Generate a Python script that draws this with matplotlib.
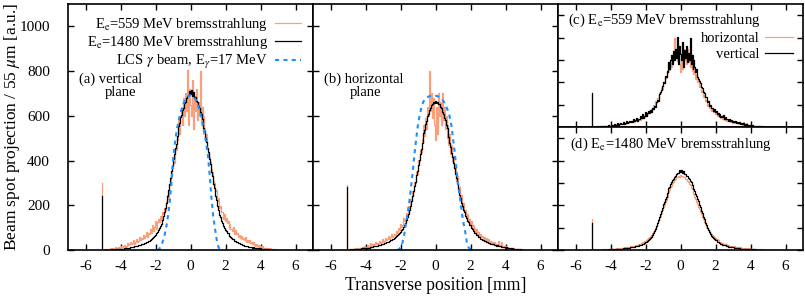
import numpy as np
import matplotlib
matplotlib.use("Agg")
import matplotlib.pyplot as plt

plt.rcParams["font.family"] = ["Liberation Serif", "DejaVu Serif"]
plt.rcParams["mathtext.fontset"] = "stix"
plt.rcParams["font.size"] = 10.5
plt.rcParams["axes.unicode_minus"] = False

# histogram bins: 55 um pixels, first bin centre at -5.06 mm
bin_start = -5.06
bin_width = 0.055

# E_e = 1480 MeV, vertical plane
hi_vert = [
    240, 1, 1, 1, 2, 1, 2, 2, 1, 2,
    2, 3, 2, 3, 3, 4, 3, 4, 5, 4,
    5, 6, 6, 7, 7, 8, 9, 9, 11, 10,
    12, 13, 13, 15, 16, 17, 18, 20, 21, 22,
    24, 25, 27, 28, 30, 33, 34, 37, 40, 42,
    45, 47, 51, 55, 58, 63, 68, 74, 80, 88,
    97, 108, 118, 132, 150, 168, 188, 212, 240, 268,
    295, 322, 352, 376, 408, 428, 458, 476, 508, 524,
    554, 566, 594, 604, 626, 636, 656, 664, 680, 688,
    692, 712, 696, 714, 688, 706, 682, 684, 666, 662,
    644, 636, 616, 606, 584, 572, 546, 532, 500, 484,
    454, 436, 406, 386, 350, 332, 296, 276, 242, 224,
    196, 180, 158, 147, 128, 120, 106, 100, 88, 86,
    76, 74, 65, 64, 56, 55, 48, 47, 42, 41,
    36, 36, 31, 31, 27, 27, 23, 23, 19, 20,
    17, 17, 14, 15, 12, 13, 11, 12, 10, 10,
    9, 9, 7, 8, 6, 7, 5, 6, 4, 5,
    3, 4, 3, 3, 2, 2, 2, 2, 1, 1,
    1, 1, 0, 0,
]

# E_e = 1480 MeV, horizontal plane
hi_horz = [
    280, 1, 2, 2, 3, 2, 3, 4, 3, 4,
    4, 5, 5, 6, 5, 7, 7, 8, 8, 9,
    9, 10, 11, 11, 12, 13, 14, 15, 16, 17,
    18, 19, 20, 22, 23, 24, 25, 27, 29, 30,
    32, 34, 36, 38, 40, 43, 45, 48, 51, 54,
    57, 61, 64, 68, 73, 77, 82, 88, 95, 103,
    112, 122, 134, 148, 163, 180, 198, 218, 240, 262,
    287, 306, 334, 354, 382, 402, 430, 450, 478, 496,
    522, 538, 562, 576, 598, 610, 628, 636, 650, 652,
    664, 656, 668, 658, 664, 652, 652, 638, 634, 618,
    610, 592, 580, 558, 544, 520, 504, 478, 460, 433,
    414, 388, 368, 340, 320, 293, 274, 248, 232, 210,
    197, 178, 168, 152, 145, 131, 126, 114, 110, 99,
    96, 86, 84, 75, 74, 65, 65, 57, 57, 50,
    50, 45, 44, 40, 40, 36, 36, 32, 32, 28,
    29, 25, 26, 22, 23, 20, 21, 18, 19, 16,
    17, 14, 15, 12, 14, 11, 12, 9, 10, 8,
    9, 6, 8, 5, 6, 4, 5, 3, 4, 2,
    3, 1, 1, 1,
]

# E_e = 559 MeV, vertical plane
lo_vert = [
    300, 0, 2, 4, 1, 3, 6, 2, 3, 7,
    4, 9, 5, 6, 12, 7, 9, 15, 10, 8,
    18, 13, 16, 24, 14, 20, 19, 33, 22, 26,
    38, 25, 30, 44, 28, 36, 50, 34, 41, 58,
    45, 52, 49, 68, 55, 62, 80, 58, 74, 70,
    95, 78, 86, 112, 84, 102, 130, 95, 125, 140,
    125, 150, 135, 172, 160, 190, 178, 220, 245, 230,
    295, 310, 330, 365, 400, 390, 455, 445, 500, 490,
    580, 520, 600, 640, 560, 680, 600, 700, 620, 805,
    560, 720, 650, 600, 760, 540, 690, 620, 720, 580,
    660, 600, 800, 560, 640, 520, 600, 540, 490, 520,
    450, 430, 415, 395, 360, 350, 310, 300, 265, 270,
    220, 232, 190, 195, 168, 172, 140, 162, 130, 145,
    120, 128, 100, 118, 92, 95, 85, 104, 72, 88,
    70, 76, 58, 68, 55, 64, 48, 52, 45, 58,
    38, 44, 36, 46, 30, 35, 28, 38, 22, 27,
    20, 26, 18, 22, 14, 17, 12, 16, 10, 9,
    8, 11, 6, 7, 5, 8, 3, 5, 4, 2,
    3, 1, 1, 0,
]

# E_e = 559 MeV, horizontal plane
lo_horz = [
    290, 0, 2, 3, 5, 2, 4, 6, 3, 7,
    5, 8, 6, 11, 9, 7, 13, 10, 16, 12,
    14, 22, 15, 19, 30, 18, 21, 27, 20, 26,
    34, 25, 31, 28, 40, 30, 36, 48, 35, 42,
    52, 44, 50, 62, 47, 56, 72, 58, 64, 70,
    66, 85, 76, 80, 100, 90, 118, 102, 112, 145,
    130, 140, 165, 158, 195, 185, 230, 220, 262, 258,
    305, 300, 350, 342, 402, 396, 445, 440, 495, 480,
    560, 510, 590, 540, 640, 600, 800, 620, 700, 590,
    680, 560, 490, 640, 520, 700, 600, 660, 560, 700,
    580, 640, 540, 600, 500, 560, 470, 520, 430, 470,
    400, 420, 360, 372, 310, 330, 270, 282, 232, 245,
    192, 208, 168, 178, 146, 162, 130, 140, 112, 128,
    100, 112, 90, 98, 78, 92, 70, 82, 62, 72,
    58, 64, 50, 60, 46, 52, 40, 50, 36, 42,
    32, 38, 28, 34, 25, 28, 22, 42, 18, 24,
    16, 38, 14, 20, 12, 16, 10, 14, 8, 11,
    6, 9, 5, 7, 4, 6, 3, 4, 2, 3,
    2, 1, 0, 0,
]

# LCS gamma beam (E_gamma = 17 MeV) profiles
lcs_vert_x = [-1.9, -1.8, -1.7, -1.6, -1.5, -1.4, -1.3, -1.2, -1.1, -1.0,
              -0.9, -0.8, -0.7, -0.6, -0.5, -0.4, -0.3, -0.2, -0.1, 0.0,
              0.1, 0.2, 0.3, 0.4, 0.5, 0.6, 0.7, 0.8, 0.9, 1.0,
              1.1, 1.2, 1.3, 1.4, 1.5, 1.6, 1.7, 1.8]
lcs_vert_y = [0, 3, 15, 35, 60, 95, 145, 205, 290, 400,
              470, 530, 570, 605, 632, 655, 672, 684, 690, 692,
              690, 684, 672, 655, 630, 600, 565, 530, 475, 420,
              330, 230, 150, 95, 45, 12, 3, 0]

lcs_horz_x = [-2.2, -2.1, -2.0, -1.9, -1.8, -1.7, -1.6, -1.5, -1.4, -1.3,
              -1.2, -1.1, -1.0, -0.9, -0.8, -0.7, -0.6, -0.5, -0.4, -0.3,
              -0.2, -0.1, 0.0, 0.1, 0.2, 0.3, 0.4, 0.5, 0.6, 0.7,
              0.8, 0.9, 1.0, 1.1, 1.2, 1.3, 1.4, 1.5, 1.6, 1.7,
              1.8, 1.9, 2.0, 2.1]
lcs_horz_y = [0, 3, 10, 30, 60, 115, 160, 215, 280, 350,
              430, 500, 560, 605, 640, 662, 675, 682, 686, 688,
              690, 690, 690, 688, 685, 680, 672, 660, 645, 625,
              600, 560, 500, 435, 360, 285, 230, 170, 120, 80,
              30, 10, 3, 0]

xticks = [-6, -4, -2, 0, 2, 4, 6]
yticks = [0, 200, 400, 600, 800, 1000]

orange = "#f8a07c"
blue = "#1e8fff"

x = bin_start + bin_width * np.arange(len(hi_vert))

fig = plt.figure(figsize=(8.05, 2.97), dpi=100)
W, H = 805.0, 297.0
ax_a = fig.add_axes([68 / W, 47 / H, 245 / W, 246 / H])
ax_b = fig.add_axes([313 / W, 47 / H, 245 / W, 246 / H])
ax_c = fig.add_axes([558 / W, 170 / H, 245 / W, 123 / H])
ax_d = fig.add_axes([558 / W, 47 / H, 245 / W, 123 / H])

for ax in [ax_a, ax_b, ax_c, ax_d]:
    ax.set_xlim(-7, 7)
    ax.set_ylim(0, 1100)
    ax.set_xticks(xticks)
    ax.set_yticks(yticks)
    ax.tick_params(direction="in", top=True, right=True, length=4, width=1,
                   labelsize=11)
    ax.tick_params(axis="x", pad=7.5)
    ax.tick_params(axis="y", pad=13)
    for s in ax.spines.values():
        s.set_linewidth(1.2)

for ax in [ax_b, ax_c, ax_d]:
    ax.set_yticklabels([])
ax_c.set_xticklabels([])

# (a) vertical plane
ax_a.step(x, lo_vert, where="mid", color=orange, lw=0.9,
          label=r"E$_\mathrm{e}$=559 MeV bremsstrahlung")
ax_a.step(x, hi_vert, where="mid", color="black", lw=0.9,
          label=r"E$_\mathrm{e}$=1480 MeV bremsstrahlung")
ax_a.plot(lcs_vert_x, lcs_vert_y, color=blue, lw=1.5, dashes=(2, 2),
          label=r"LCS $\gamma$ beam, E$_\gamma$=17 MeV")
ax_a.text(-6.35, 765, "(a) vertical", va="center")
ax_a.text(-4.9, 705, "plane", va="center")
ax_a.legend(loc="upper right", bbox_to_anchor=(1.0, 1.0), frameon=False,
            markerfirst=False, handlelength=1.8, handletextpad=0.5,
            labelspacing=0.12, borderaxespad=0.4)

# (b) horizontal plane
ax_b.step(x, lo_horz, where="mid", color=orange, lw=0.9)
ax_b.step(x, hi_horz, where="mid", color="black", lw=0.9)
ax_b.plot(lcs_horz_x, lcs_horz_y, color=blue, lw=1.5, dashes=(2, 2))
ax_b.text(-6.4, 765, "(b) horizontal", va="center")
ax_b.text(-4.9, 705, "plane", va="center")

# (c) 559 MeV, both planes
ax_c.step(x, lo_horz, where="mid", color=orange, lw=0.9, label="horizontal")
ax_c.step(x, lo_vert, where="mid", color="black", lw=0.9, label="vertical")
ax_c.text(0.04, 0.87, r"(c) E$_\mathrm{e}$=559 MeV bremsstrahlung",
          transform=ax_c.transAxes, va="center")
ax_c.legend(loc="upper right", bbox_to_anchor=(1.0, 0.86), frameon=False,
            markerfirst=False, handlelength=1.9, handletextpad=0.4,
            labelspacing=0.2, borderaxespad=0.3)

# (d) 1480 MeV, both planes
ax_d.step(x, hi_horz, where="mid", color=orange, lw=0.9)
ax_d.step(x, hi_vert, where="mid", color="black", lw=0.9)
ax_d.text(0.05, 0.86, r"(d) E$_\mathrm{e}$=1480 MeV bremsstrahlung",
          transform=ax_d.transAxes, va="center")

fig.text(436 / W, 1 - 285 / H, "Transverse position [mm]", ha="center", va="center",
         fontsize=12.7)
fig.text(12 / W, 1 - 127 / H, r"Beam spot projection / 55 $\mu$m [a.u.]",
         rotation=90, ha="center", va="center", fontsize=12.5)

fig.savefig("out.png", dpi=100)
